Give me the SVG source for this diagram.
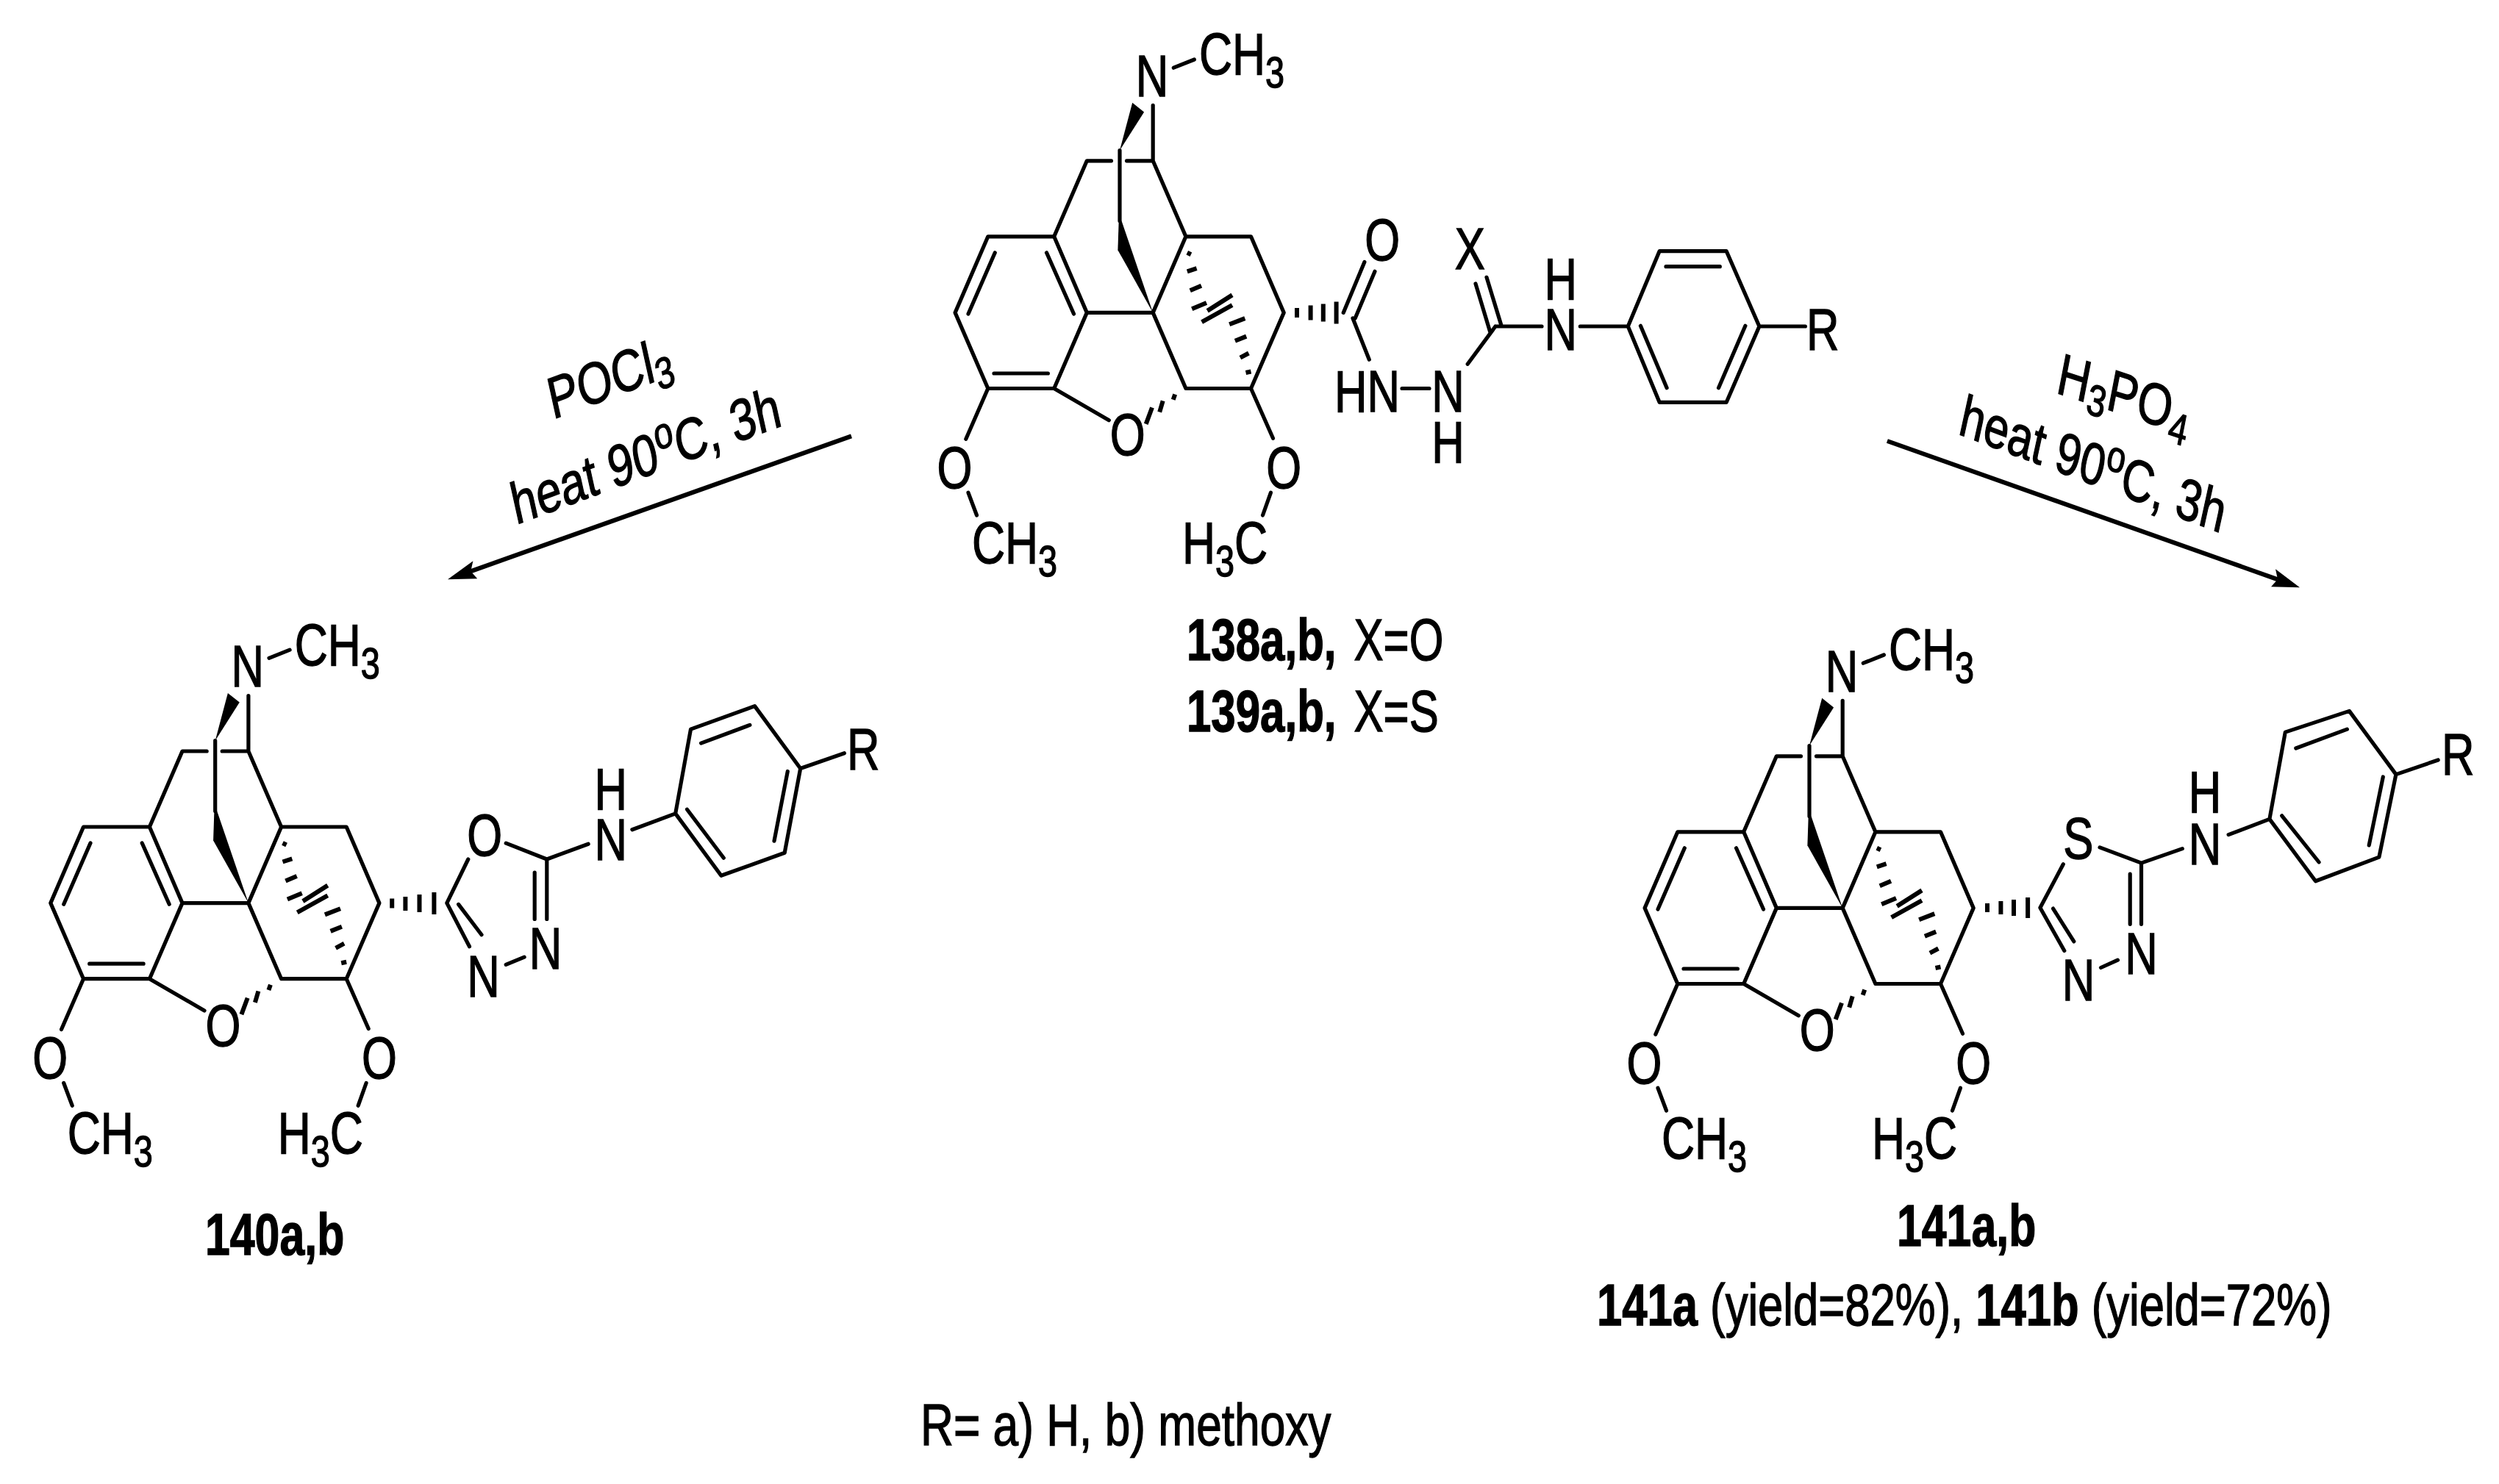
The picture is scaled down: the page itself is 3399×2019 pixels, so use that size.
<svg xmlns="http://www.w3.org/2000/svg" xmlns:xlink="http://www.w3.org/1999/xlink" width="3399" height="2019" viewBox="0 0 3399 2019">
<style>
text{font-family:"Liberation Sans",Arial,sans-serif;font-size:80px;fill:#000;stroke:#000;stroke-width:1.4}
.m{text-anchor:middle}
.b{font-weight:bold}
.s{font-size:60px}
.bond{fill:none;stroke:#000;stroke-width:5.2;stroke-linecap:round;stroke-linejoin:round}
.hash{fill:none;stroke:#000;stroke-width:6;stroke-linecap:butt}
.arrow{fill:none;stroke:#000;stroke-width:6}
</style>
<defs>
<g id="core">
<path class="bond" d="M1343.8 321.8H1433.7L1478.3 425.4L1433.7 528.5H1343.8L1299.1 425.4ZM1353.3 343.8L1317 427M1423.5 343.8L1460.5 427M1352 508H1425.4M1478.3 425.4H1568.2L1612.9 321.8H1701.5L1746.2 425.4L1701.5 528.5H1612.9L1568.2 425.4M1433.7 321.8L1478.3 218.8H1511.5M1532.5 218.8H1568.2L1612.9 321.8M1568.2 143.3V218.8M1523 204.5V300.4M1596.3 92.2L1624.4 81M1433.7 528.5L1508.3 571.8M1343.8 528.5L1313.8 597.3M1317 670.3L1328.5 701M1701.5 528.5L1731.5 596.3M1728.4 670.3L1717.5 701"/>
<polygon points="1523,204.5 1540.2,139.7 1556.1,152.4"/>
<polygon points="1525.5,300.4 1568.2,425.4 1520.4,340.2 1521.7,300.4"/>
<path class="hash" d="M1614.8 343.8L1619.9 346.3M1614.8 369.3L1627.6 365.2M1618.7 395.3L1634 388.7M1621.2 420.3L1641 412.1M1642.2 422.9L1676 401.4M1634.6 438.2L1676 415.2M1672.2 441.2L1693.3 433.1M1679.9 463.7L1695.2 457.6M1686.9 486.6L1698.4 480.5M1694.5 507L1701.5 505.5M1598.2 536.6L1595.7 543.8M1581.7 545.3L1577.2 560.6M1567 554.5L1558.7 576.9"/>
</g>
</defs>

<g id="connectors">
<path class="arrow" d="M1158 593.3L640 777.3"/>
<polygon points="609,788.3 643.4,763.3 640.3,777.3 649.2,787.3"/>
<path class="arrow" d="M2566.9 600L3098 788.3"/>
<polygon points="3128,799.3 3095,774.3 3098,788.3 3089,798.3"/>
</g>

<g id="reagents-left">
<text transform="translate(751.9 570.7) scale(.77 1) rotate(-16)">POCl<tspan class="s" dy="14">3</tspan></text>
<text transform="translate(702 714) scale(.77 1) rotate(-16)">heat 90<tspan class="s" dy="-28">o</tspan><tspan dy="28">C, 3h</tspan></text>
</g>
<g id="reagents-right">
<text transform="translate(2795 534) scale(.77 1) rotate(14)">H<tspan class="s" dy="14">3</tspan><tspan dy="-14">PO</tspan><tspan class="s" dy="16">4</tspan></text>
<text transform="translate(2662 590) scale(.76 1) rotate(16)">heat 90<tspan class="s" dy="-28">o</tspan><tspan dy="28">C, 3h</tspan></text>
</g>

<g id="mol-138">
<use href="#core" xlink:href="#core"/>
<g>
<text class="m" transform="translate(1567 131) scale(.77 1)">N</text>
<text transform="translate(1631 101.4) scale(.78 1)">CH<tspan class="s" dy="18">3</tspan></text>
<text class="m" transform="translate(1533.8 619.3) scale(.77 1)">O</text>
<text class="m" transform="translate(1298.5 663.7) scale(.77 1)">O</text>
<text transform="translate(1322 765.7) scale(.78 1)">CH<tspan class="s" dy="18">3</tspan></text>
<text class="m" transform="translate(1746.2 663.7) scale(.77 1)">O</text>
<text transform="translate(1608 765.7) scale(.78 1)">H<tspan class="s" dy="18">3</tspan><tspan dy="-18">C</tspan></text>
</g>
<path class="hash" d="M1764 419V432M1782.6 415.4V435.4M1799.8 413.4V437.4M1817.6 410.4V440.4"/>
<path class="bond" d="M1840 433L1862.3 489.2M1827.2 425.4L1855.9 356.5M1843.2 433L1870 369.3M1907 528.5H1944M1996.2 495.3L2034 444M2007 386L2026.8 451.7M2022 377.3L2042 442.7M2034 444H2097M2149.3 444H2214.3L2257.1 341.7H2348.2L2392.9 444L2348.2 547.3H2257.1L2214.3 444M2266 362.7H2339.3M2231.4 443.3L2267.1 527.7M2373.9 443.3L2337.5 527.7M2392.9 444H2455.4"/>
<text class="m" transform="translate(1880.2 354) scale(.77 1)">O</text>
<text transform="translate(1815 559.6) scale(.77 1)">HN</text>
<text class="m" transform="translate(1969.4 559.6) scale(.77 1)">N</text>
<text class="m" transform="translate(1969.4 628.5) scale(.77 1)">H</text>
<text class="m" transform="translate(1999.4 365.7) scale(.77 1)">X</text>
<text class="m" transform="translate(2122.7 407.3) scale(.77 1)">H</text>
<text class="m" transform="translate(2122.7 476) scale(.77 1)">N</text>
<text transform="translate(2457 476) scale(.77 1)">R</text>
<text transform="translate(1614 898.3) scale(.75 1)"><tspan class="b">138a,b,</tspan><tspan dx="10"> X=O</tspan></text>
<text transform="translate(1614 995) scale(.75 1)"><tspan class="b">139a,b,</tspan><tspan dx="10"> X=S</tspan></text>
</g>

<g id="mol-140">
<use href="#core" xlink:href="#core" transform="translate(-1230.3 803.2)"/>
<g transform="translate(-1230.3 803.2)">
<text class="m" transform="translate(1567 131) scale(.77 1)">N</text>
<text transform="translate(1631 101.4) scale(.78 1)">CH<tspan class="s" dy="18">3</tspan></text>
<text class="m" transform="translate(1533.8 619.3) scale(.77 1)">O</text>
<text class="m" transform="translate(1298.5 663.7) scale(.77 1)">O</text>
<text transform="translate(1322 765.7) scale(.78 1)">CH<tspan class="s" dy="18">3</tspan></text>
<text class="m" transform="translate(1746.2 663.7) scale(.77 1)">O</text>
<text transform="translate(1608 765.7) scale(.78 1)">H<tspan class="s" dy="18">3</tspan><tspan dy="-18">C</tspan></text>
</g>
<path class="hash" d="M533.2 1222.6V1235.6M551.4 1220V1239M570.5 1217V1241M590.4 1214V1244"/>
<path class="bond" d="M636.8 1169L607.8 1228.6L638.5 1287.8M688.2 1147.1L743.8 1169V1250.4M727.2 1187V1250.4M688.2 1312.4L713.1 1302.1M623.6 1230.4L655 1271.7M743.8 1169L800.2 1148.3M859.9 1128.7L918.7 1106.9L939.5 992.1L1026.5 960.6L1088.7 1045.5L1067.2 1160.3L980.9 1191.3L918.7 1106.9M953.6 1011.1L1019.9 986.4M1071.3 1049.5L1053 1144.2M934.5 1101.2L984.3 1167.2M1088.7 1045.5L1148.4 1024.8"/>
<text class="m" transform="translate(659.2 1164.3) scale(.77 1)">O</text>
<text class="m" transform="translate(742 1318.2) scale(.77 1)">N</text>
<text class="m" transform="translate(657.5 1355.5) scale(.77 1)">N</text>
<text class="m" transform="translate(830.8 1170) scale(.77 1)">N</text>
<text class="m" transform="translate(830.8 1101.2) scale(.77 1)">H</text>
<text transform="translate(1152 1046.7) scale(.77 1)">R</text>
<text class="b" transform="translate(279 1706.8) scale(.76 1)">140a,b</text>
</g>

<g id="mol-141">
<use href="#core" xlink:href="#core" transform="translate(938 810)"/>
<g transform="translate(938 810)">
<text class="m" transform="translate(1567 131) scale(.77 1)">N</text>
<text transform="translate(1631 101.4) scale(.78 1)">CH<tspan class="s" dy="18">3</tspan></text>
<text class="m" transform="translate(1533.8 619.3) scale(.77 1)">O</text>
<text class="m" transform="translate(1298.5 663.7) scale(.77 1)">O</text>
<text transform="translate(1322 765.7) scale(.78 1)">CH<tspan class="s" dy="18">3</tspan></text>
<text class="m" transform="translate(1746.2 663.7) scale(.77 1)">O</text>
<text transform="translate(1608 765.7) scale(.78 1)">H<tspan class="s" dy="18">3</tspan><tspan dy="-18">C</tspan></text>
</g>
<path class="hash" d="M2703 1229V1241M2721.4 1226V1244M2739 1224V1246M2758.1 1221V1249"/>
<path class="bond" d="M2806.3 1175.8L2774.9 1235L2807.8 1293.5M2856 1152.9L2912.5 1174.1V1257.3M2897.2 1189V1257.3M2857.5 1316.5L2880.4 1306.1M2792.5 1236.1L2820.8 1280.9M2912.5 1174.1L2968.3 1154.6M3031.1 1135.6L3086.9 1114.4L3108.3 996.1L3195.4 967.4L3258.9 1053.6L3235.9 1166.1L3149.5 1198.8L3086.9 1114.4M3122.8 1018L3192.4 992.1M3241.3 1057L3222.2 1150M3103.7 1109.8L3154.1 1173M3258.9 1053.6L3316.2 1034"/>
<text class="m" transform="translate(2826.9 1168.4) scale(.77 1)">S</text>
<text class="m" transform="translate(2912.5 1325.1) scale(.77 1)">N</text>
<text class="m" transform="translate(2826.9 1361.2) scale(.77 1)">N</text>
<text class="m" transform="translate(2998.9 1175.8) scale(.77 1)">N</text>
<text class="m" transform="translate(2998.9 1105.2) scale(.77 1)">H</text>
<text transform="translate(3321 1053.6) scale(.77 1)">R</text>
<text class="b" transform="translate(2580 1695) scale(.76 1)">141a,b</text>
<text transform="translate(2172 1802.7) scale(.77 1)"><tspan class="b">141a</tspan> (yield=82%), <tspan class="b">141b</tspan> (yield=72%)</text>
</g>

<g id="r-legend">
<text transform="translate(1252 1966) scale(.778 1)">R= a) H, b) methoxy</text>
</g>
</svg>
